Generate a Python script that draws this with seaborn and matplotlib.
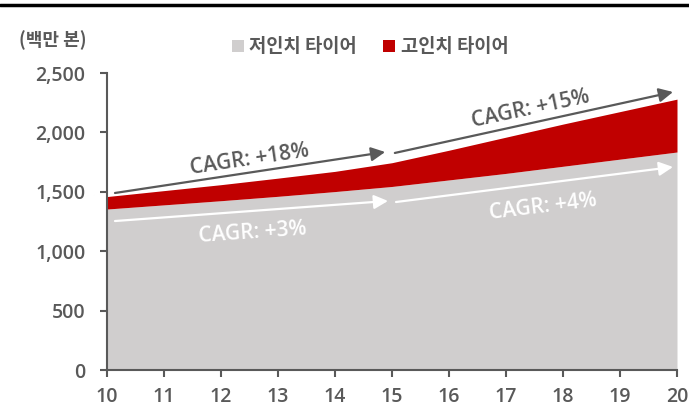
import matplotlib
matplotlib.use("Agg")
import matplotlib.pyplot as plt
from matplotlib.patches import Patch
from matplotlib.lines import Line2D
import seaborn as sns
import pandas as pd

# Tire demand, millions of units
years = [10, 11, 12, 13, 14, 15, 16, 17, 18, 19, 20]
low_inch = [1355, 1390, 1425, 1462, 1502, 1545, 1600, 1655, 1715, 1775, 1835]
high_inch = [105, 120, 135, 153, 170, 200, 250, 305, 355, 400, 445]
series_names = ["저인치 타이어", "고인치 타이어"]
cagr_labels = ["CAGR: +18%", "CAGR: +15%", "CAGR: +3%", "CAGR: +4%"]
y_ticks = [0, 500, 1000, 1500, 2000, 2500]
unit_label = "(백만 본)"

df = pd.DataFrame({"year": years, "low": low_inch, "high": high_inch})
df["total"] = df["low"] + df["high"]

sns.set_theme(style="white")
plt.rcParams["font.family"] = ["Noto Sans CJK KR", "DejaVu Sans"]
LATIN = ["Open Sans", "Noto Sans", "DejaVu Sans"]

GRAY_TXT = "#595959"
LOW_C = "#D0CECE"
HIGH_C = "#C00000"

fig = plt.figure(figsize=(6.89, 4.09), dpi=100)
ax = fig.add_axes([107 / 689, 39 / 409, 570 / 689, 297 / 409])

sns.lineplot(data=df, x="year", y="low", ax=ax, color=LOW_C, linewidth=0)
sns.lineplot(data=df, x="year", y="total", ax=ax, color=HIGH_C, linewidth=0)
ax.fill_between(df["year"], 0, df["low"], color=LOW_C, linewidth=0)
ax.fill_between(df["year"], df["low"], df["total"], color=HIGH_C, linewidth=0)

ax.set_xlim(10, 20)
ax.set_ylim(0, 2500)
ax.set_xticks(years)
ax.set_xticklabels([str(y) for y in years])
ax.set_yticks(y_ticks)
ax.set_yticklabels([f"{v:,}" for v in y_ticks])
ax.set_xlabel("")
ax.set_ylabel("")
for s in ["top", "right"]:
    ax.spines[s].set_visible(False)
for s in ["left", "bottom"]:
    ax.spines[s].set_color(GRAY_TXT)
    ax.spines[s].set_linewidth(1.5)
ax.tick_params(axis="both", which="major", direction="out", length=5, width=1.5,
               color=GRAY_TXT, labelcolor=GRAY_TXT, labelsize=14, left=True, bottom=True)
ax.tick_params(axis="y", pad=10.5)
ax.tick_params(axis="x", pad=7)
for lab in ax.get_xticklabels() + ax.get_yticklabels():
    lab.set_fontfamily(LATIN)
    lab.set_fontweight("semibold")
ax.patch.set_alpha(0)

# CAGR arrows and labels
arrows = [
    ((10.14, 1490), (14.88, 1835), GRAY_TXT),
    ((15.05, 1827), (19.93, 2340), GRAY_TXT),
    ((10.14, 1254), (14.93, 1423), "white"),
    ((15.07, 1414), (19.93, 1709), "white"),
]
for (x0, y0), (x1, y1), c in arrows:
    ax.annotate("", xy=(x1, y1), xytext=(x0, y0),
                arrowprops=dict(arrowstyle="-|>,head_length=0.7,head_width=0.35",
                                color=c, lw=1.6, shrinkA=0, shrinkB=0))

label_pos = [
    ((12.5, 1770), 8.5, GRAY_TXT),
    ((17.43, 2195), 12.0, GRAY_TXT),
    ((12.55, 1155), 4.0, "white"),
    ((17.65, 1370), 7.0, "white"),
]
for txt, ((x, y), rot, c) in zip(cagr_labels, label_pos):
    ax.text(x, y, txt, color=c, fontsize=15, rotation=rot, ha="center", va="center",
            rotation_mode="anchor", fontweight="semibold", family=LATIN)

# Unit label
fig.text(19 / 689, 1 - 40 / 409, unit_label, color=GRAY_TXT, fontsize=13,
         fontweight="bold", ha="left", va="center")

# Legend
handles = [Patch(facecolor=LOW_C, edgecolor="none"), Patch(facecolor=HIGH_C, edgecolor="none")]
leg = fig.legend(handles, series_names, loc="center", bbox_to_anchor=(370 / 689, 1 - 47 / 409),
                 ncol=2, frameon=False, handlelength=0.64, handleheight=0.64, handletextpad=0.3,
                 columnspacing=1.4, borderpad=0, prop={"size": 13.5, "weight": "bold"})
for t in leg.get_texts():
    t.set_color(GRAY_TXT)

# Top rule
fig.add_artist(Line2D([0, 1], [1 - 5 / 409, 1 - 5 / 409], transform=fig.transFigure,
                      color="black", linewidth=2.5))

fig.savefig("out.png", dpi=100)
